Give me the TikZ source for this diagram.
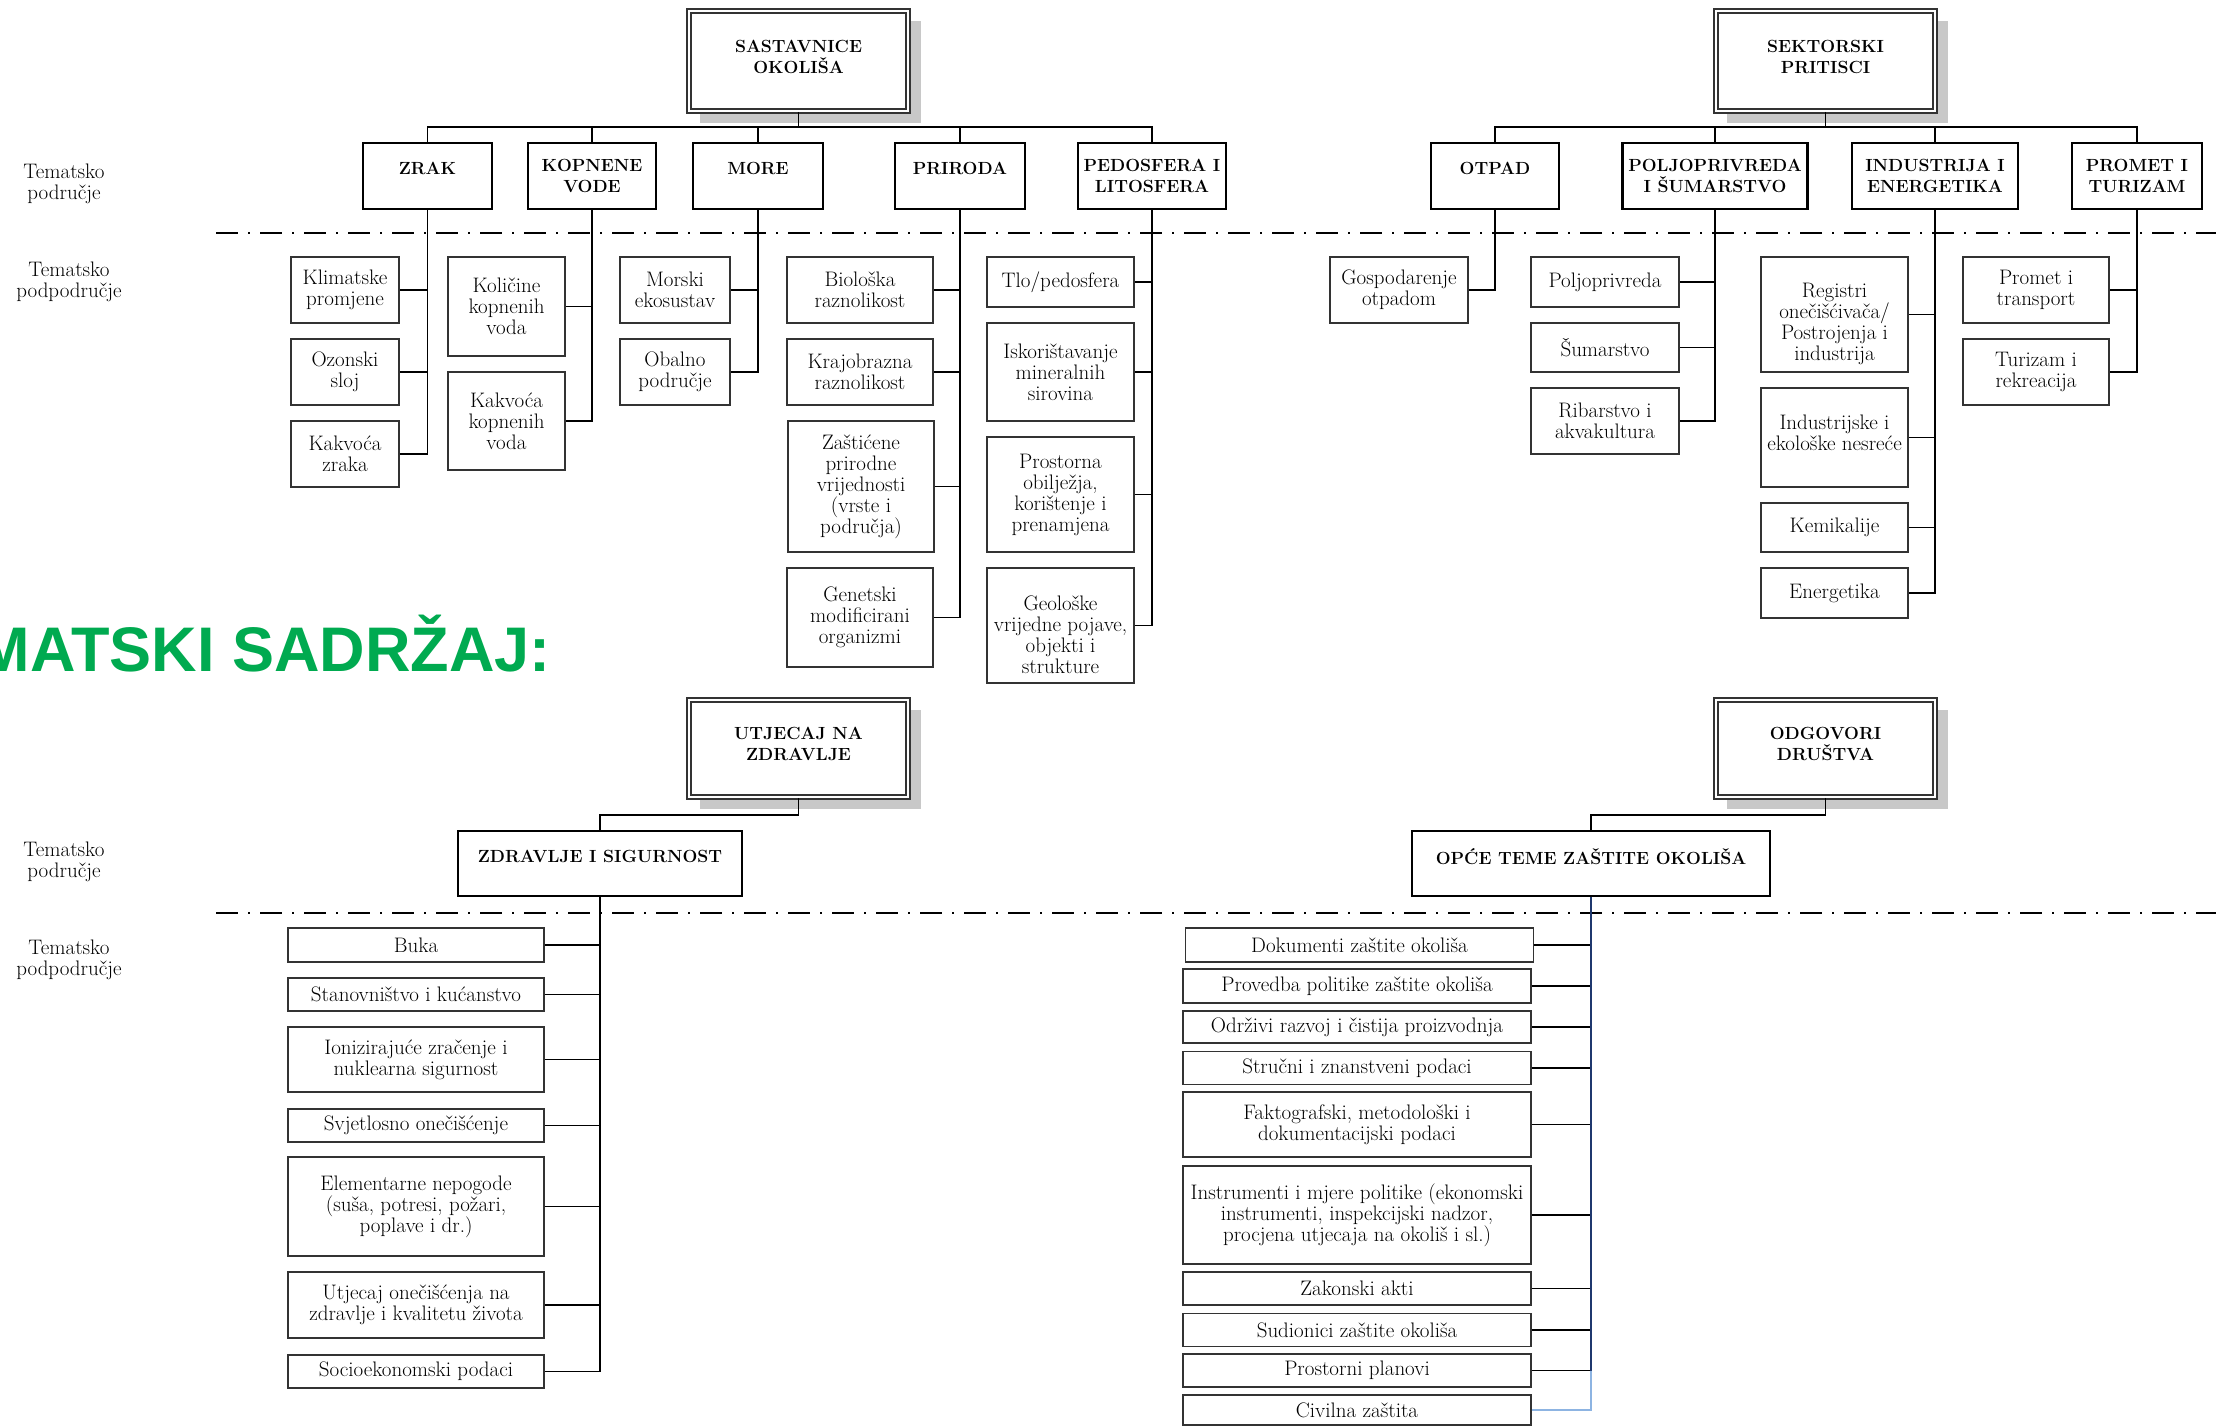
\documentclass[tikz,border=0pt]{standalone}
\usepackage{fontspec}
\newfontfamily\titlefont{Liberation Sans}
\usetikzlibrary{calc,backgrounds}

\definecolor{naslovgreen}{RGB}{0,170,80}
\definecolor{trunknavy}{RGB}{31,56,110}
\definecolor{trunkblue}{RGB}{141,180,226}
\definecolor{shadowgray}{RGB}{200,200,200}

\newcommand\boxfont{\fontsize{21}{21}\selectfont\addfontfeature{FakeBold=0.3}}
\newcommand\headfont{\fontsize{17.6}{21}\selectfont\bfseries}

\tikzset{
  topbox/.style={draw=black!80, double=white, double distance=2.4pt, line width=1.6pt, fill=white, inner sep=0pt, align=center, font=\headfont, minimum width=219, minimum height=100},
  areabox/.style={draw, line width=2.4pt, fill=white, inner sep=0pt, align=center, font=\headfont, minimum height=66},
  subbox/.style={draw=black!80, line width=1.6pt, fill=white, inner sep=0pt, align=center, font=\boxfont},
  link/.style={line width=1.8pt, draw=black},
  divider/.style={line width=2pt, dash pattern=on 22pt off 10pt on 2pt off 10pt},
  sidelabel/.style={align=center, font=\boxfont},
  lift/.style={text depth=#1},
  sink/.style={text height=#1},
}

\begin{document}
\begin{tikzpicture}[x=1pt,y=1pt,yscale=-1,xscale=1]
\useasboundingbox (0,0) rectangle (2216,1425);
\begin{scope}[on background layer]
\fill[white] (0,0) rectangle (2216,1425);
\end{scope}

% Text Node
\node[font={\titlefont\fontsize{63}{70}\selectfont\bfseries}, text=naslovgreen, anchor=base east, inner sep=0pt] (naslov) at (551,671) {MATSKI SADRŽAJ:};

% Text Node
\node[sidelabel] (podrucjeA) at (64,184) {Tematsko\\područje};
\node[sidelabel] (podpodrucjeA) at (69,282) {Tematsko\\podpodručje};
\node[sidelabel] (podrucjeB) at (64,862) {Tematsko\\područje};
\node[sidelabel] (podpodrucjeB) at (69,960) {Tematsko\\podpodručje};

%Straight Lines
\draw[divider] (216,233) -- (2216,233);
\draw[divider] (216,913) -- (2216,913);

%Shape: Rectangle -- sastavnice okoliša
\node[topbox, lift=8] (sast) at (798.5,61) {SASTAVNICE\\OKOLIŠA};
\node[areabox, minimum width=129, lift=16] (zrak) at (427.5,176) {ZRAK};
\node[areabox, minimum width=128] (kopn) at (592,176) {KOPNENE\\VODE};
\node[areabox, minimum width=130, lift=16] (more) at (758,176) {MORE};
\node[areabox, minimum width=130, lift=16] (prir) at (960,176) {PRIRODA};
\node[areabox, minimum width=148] (pedo) at (1152,176) {PEDOSFERA I\\LITOSFERA};

\node[subbox, minimum width=108, minimum height=66] (klima) at (345,290) {Klimatske\\promjene};
\node[subbox, minimum width=108, minimum height=66] (ozon) at (345,372) {Ozonski\\sloj};
\node[subbox, minimum width=108, minimum height=66] (kzrak) at (345,454) {Kakvoća\\zraka};
\node[subbox, minimum width=117, minimum height=99] (kolv) at (506.5,306.5) {Količine\\kopnenih\\voda};
\node[subbox, minimum width=117, minimum height=98] (kakv) at (506.5,421) {Kakvoća\\kopnenih\\voda};
\node[subbox, minimum width=110, minimum height=66] (morski) at (675,290) {Morski\\ekosustav};
\node[subbox, minimum width=110, minimum height=66] (obal) at (675,372) {Obalno\\područje};
\node[subbox, minimum width=146, minimum height=66] (biol) at (860,290) {Biološka\\raznolikost};
\node[subbox, minimum width=146, minimum height=66] (kraj) at (860,372) {Krajobrazna\\raznolikost};
\node[subbox, minimum width=146, minimum height=131] (zast) at (861,486.5) {Zaštićene\\prirodne\\vrijednosti\\(vrste i\\područja)};
\node[subbox, minimum width=146, minimum height=99] (gen) at (860,617.5) {Genetski\\modificirani\\organizmi};
\node[subbox, minimum width=147, minimum height=50] (tlo) at (1060.5,282) {Tlo/pedosfera};
\node[subbox, minimum width=147, minimum height=98] (isk) at (1060.5,372) {Iskorištavanje\\mineralnih\\sirovina};
\node[subbox, minimum width=147, minimum height=115] (prost) at (1060.5,494.5) {Prostorna\\obilježja,\\korištenje i\\prenamjena};
\node[subbox, minimum width=147, minimum height=115, sink=97] (geo) at (1060.5,625.5) {Geološke\\vrijedne pojave,\\objekti i\\strukture};

%Shape: Rectangle -- sektorski pritisci
\node[topbox, lift=8] (sek) at (1825.5,61) {SEKTORSKI\\PRITISCI};
\node[areabox, minimum width=128, lift=16] (otpad) at (1495,176) {OTPAD};
\node[areabox, minimum width=185] (polj) at (1715,176) {POLJOPRIVREDA\\I ŠUMARSTVO};
\node[areabox, minimum width=166] (ind) at (1935,176) {INDUSTRIJA I\\ENERGETIKA};
\node[areabox, minimum width=130] (prom) at (2137,176) {PROMET I\\TURIZAM};

\node[subbox, minimum width=138, minimum height=66] (gosp) at (1399,290) {Gospodarenje\\otpadom};
\node[subbox, minimum width=148, minimum height=50] (poljo) at (1605,282) {Poljoprivreda};
\node[subbox, minimum width=148, minimum height=49] (sum) at (1605,347.5) {Šumarstvo};
\node[subbox, minimum width=148, minimum height=66] (rib) at (1605,421) {Ribarstvo i\\akvakultura};
\node[subbox, minimum width=147, minimum height=115, sink=97] (reg) at (1834.5,314.5) {Registri\\onečišćivača/\\Postrojenja i\\industrija};
\node[subbox, minimum width=147, minimum height=99, lift=10] (nes) at (1834.5,437.5) {Industrijske i\\ekološke nesreće};
\node[subbox, minimum width=147, minimum height=49] (kem) at (1834.5,527.5) {Kemikalije};
\node[subbox, minimum width=147, minimum height=50] (ener) at (1834.5,593) {Energetika};
\node[subbox, minimum width=146, minimum height=66] (ptr) at (2036,290) {Promet i\\transport};
\node[subbox, minimum width=146, minimum height=66] (tur) at (2036,372) {Turizam i\\rekreacija};

%Shape: Rectangle -- utjecaj na zdravlje
\node[topbox, minimum height=97, lift=10] (utj) at (798.5,748.5) {UTJECAJ NA\\ZDRAVLJE};
\node[areabox, minimum width=284, minimum height=65, lift=14] (zdr) at (600,863.5) {ZDRAVLJE I SIGURNOST};

\node[subbox, minimum width=256, minimum height=34] (buka) at (416,945) {Buka};
\node[subbox, minimum width=256, minimum height=33] (stan) at (416,994.5) {Stanovništvo i kućanstvo};
\node[subbox, minimum width=256, minimum height=65] (ion) at (416,1059.5) {Ionizirajuće zračenje i\\nuklearna sigurnost};
\node[subbox, minimum width=256, minimum height=33] (svj) at (416,1125.5) {Svjetlosno onečišćenje};
\node[subbox, minimum width=256, minimum height=99] (elem) at (416,1206.5) {Elementarne nepogode\\(suša, potresi, požari,\\poplave i dr.)};
\node[subbox, minimum width=256, minimum height=66] (utjz) at (416,1305) {Utjecaj onečišćenja na\\zdravlje i kvalitetu života};
\node[subbox, minimum width=256, minimum height=33] (socio) at (416,1371.5) {Socioekonomski podaci};

%Shape: Rectangle -- odgovori društva
\node[topbox, minimum height=97, lift=10] (odg) at (1825.5,748.5) {ODGOVORI\\DRUŠTVA};
\node[areabox, minimum width=358, minimum height=65, lift=14] (opce) at (1591,863.5) {OPĆE TEME ZAŠTITE OKOLIŠA};

\node[subbox, minimum width=348, minimum height=34] (dok) at (1359.5,945) {Dokumenti zaštite okoliša};
\node[subbox, minimum width=348, minimum height=34] (prov) at (1357,986) {Provedba politike zaštite okoliša};
\node[subbox, minimum width=348, minimum height=32] (odr) at (1357,1027) {Održivi razvoj i čistija proizvodnja};
\node[subbox, minimum width=348, minimum height=33] (struc) at (1357,1068) {Stručni i znanstveni podaci};
\node[subbox, minimum width=348, minimum height=65] (fakt) at (1357,1124.5) {Faktografski, metodološki i\\dokumentacijski podaci};
\node[subbox, minimum width=348, minimum height=98] (instr) at (1357,1215) {Instrumenti i mjere politike (ekonomski\\instrumenti, inspekcijski nadzor,\\procjena utjecaja na okoliš i sl.)};
\node[subbox, minimum width=348, minimum height=33] (zak) at (1357,1288.5) {Zakonski akti};
\node[subbox, minimum width=348, minimum height=33] (sud) at (1357,1330) {Sudionici zaštite okoliša};
\node[subbox, minimum width=348, minimum height=33] (prostp) at (1357,1370.5) {Prostorni planovi};
\node[subbox, minimum width=348, minimum height=30] (civ) at (1357,1410) {Civilna zaštita};

%Shape: Shadow
\begin{scope}[on background layer]
\fill[shadowgray] ($(sast.south west)+(12,11)$) rectangle ($(sast.north east)+(12,11)$);
\fill[shadowgray] ($(sek.south west)+(12,11)$) rectangle ($(sek.north east)+(12,11)$);
\fill[shadowgray] ($(utj.south west)+(12,11)$) rectangle ($(utj.north east)+(12,11)$);
\fill[shadowgray] ($(odg.south west)+(12,11)$) rectangle ($(odg.north east)+(12,11)$);
\end{scope}

%Straight Lines -- sastavnice okoliša
\draw[link] (sast.south) -- ++(0,15) coordinate (sastbar);
\draw[link] (sastbar) -| (zrak.north) (sastbar) -| (kopn.north) (sastbar) -| (more.north) (sastbar) -| (prir.north) (sastbar) -| (pedo.north);
\draw[link] (zrak.south) |- (klima.east) (zrak.south) |- (ozon.east) (zrak.south) |- (kzrak.east);
\draw[link] (kopn.south) |- (kolv.east) (kopn.south) |- (kakv.east);
\draw[link] (more.south) |- (morski.east) (more.south) |- (obal.east);
\draw[link] (prir.south) |- (biol.east) (prir.south) |- (kraj.east) (prir.south) |- (zast.east) (prir.south) |- (gen.east);
\draw[link] (pedo.south) |- (tlo.east) (pedo.south) |- (isk.east) (pedo.south) |- (prost.east) (pedo.south) |- (geo.east);

%Straight Lines -- sektorski pritisci
\draw[link] (sek.south) -- ++(0,15) coordinate (sekbar);
\draw[link] (sekbar) -| (otpad.north) (sekbar) -| (polj.north) (sekbar) -| (ind.north) (sekbar) -| (prom.north);
\draw[link] (otpad.south) |- (gosp.east);
\draw[link] (polj.south) |- (poljo.east) (polj.south) |- (sum.east) (polj.south) |- (rib.east);
\draw[link] (ind.south) |- (reg.east) (ind.south) |- (nes.east) (ind.south) |- (kem.east) (ind.south) |- (ener.east);
\draw[link] (prom.south) |- (ptr.east) (prom.south) |- (tur.east);

%Straight Lines -- utjecaj na zdravlje
\draw[link] (utj.south) -- ++(0,17) -| (zdr.north);
\draw[link] (zdr.south) |- (buka.east) (zdr.south) |- (stan.east) (zdr.south) |- (ion.east) (zdr.south) |- (svj.east) (zdr.south) |- (elem.east) (zdr.south) |- (utjz.east) (zdr.south) |- (socio.east);

%Straight Lines -- odgovori društva
\draw[link] (odg.south) -- ++(0,17) -| (opce.north);
\draw[link] (dok.east) -- (dok.east -| opce.south) (prov.east) -- (prov.east -| opce.south) (odr.east) -- (odr.east -| opce.south) (struc.east) -- (struc.east -| opce.south) (fakt.east) -- (fakt.east -| opce.south);
\draw[link] (instr.east) -- (instr.east -| opce.south) (zak.east) -- (zak.east -| opce.south) (sud.east) -- (sud.east -| opce.south) (prostp.east) -- (prostp.east -| opce.south);
\draw[link, draw=trunknavy] (opce.south) -- (opce.south |- prostp.east);
\draw[link, draw=trunkblue] (opce.south |- prostp.east) |- (civ.east);
\end{tikzpicture}
\end{document}
